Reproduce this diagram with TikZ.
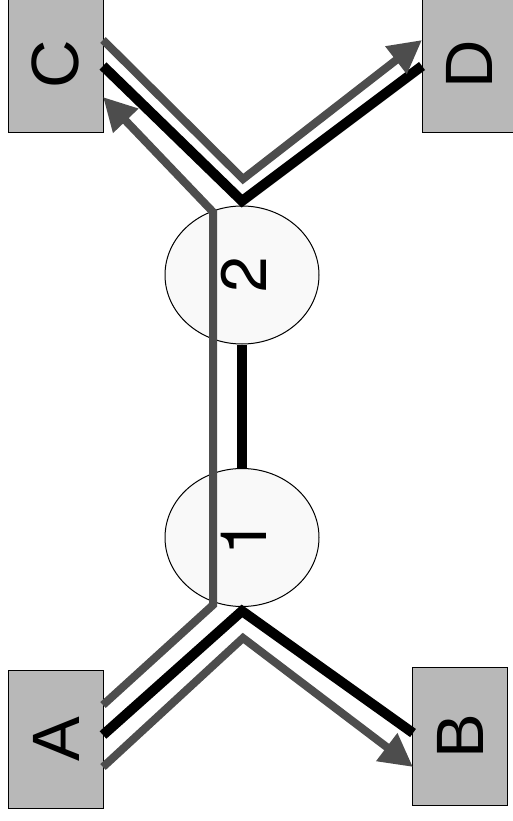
\documentclass[tikz,border=0pt]{standalone}
\usepackage{fontspec}
\setmainfont{Liberation Sans}
\newfontfamily\digitfont{TeX Gyre Heros}
\usetikzlibrary{arrows.meta,shapes.geometric}
\definecolor{boxgray}{RGB}{184,184,184}
\definecolor{linegray}{RGB}{77,77,77}
\definecolor{ellfill}{RGB}{249,249,249}
\begin{document}
\begin{tikzpicture}[x=1pt,y=-1pt,
  box/.style={draw=black,line width=1pt,fill=boxgray,minimum width=95pt,minimum height=138pt,inner sep=0pt,font=\fontsize{67}{80}\selectfont},
  hub/.style={ellipse,draw=black,line width=1pt,fill=ellfill,minimum width=154pt,minimum height=138pt,inner sep=0pt,font=\digitfont\fontsize{64}{78}\selectfont},
  blk/.style={line width=10pt,draw=black,line join=miter},
  gry/.style={line width=8pt,draw=linegray,line join=miter},
  gtip/.style={-{Triangle[length=33pt,width=33pt]}}]
\clip (0,0) rectangle (513,821);
\fill[white] (0,0) rectangle (513,821);
% boxes
\node[box] (C) at (55.5,64) {\rotatebox{90}{C}};
\node[box] (D) at (469.5,64) {\rotatebox{90}{D}};
\node[box] (A) at (56,739) {\rotatebox{90}{A}};
\node[box] (B) at (460,736.5) {\rotatebox{90}{B}};
% hubs
\node[hub] (e2) at (242,275) {\hspace*{4pt}\rotatebox{90}{2}};
\node[hub] (e1) at (242,537.5) {\hspace*{4pt}\rotatebox{90}{1}};
% bend coordinates
\coordinate (kb) at (242,611);
\coordinate (kt) at (242,201);
\coordinate (gu1) at (213,605);
\coordinate (gu2) at (213,212);
\coordinate (gl) at (243,638);
\coordinate (gt) at (243,179);
% black paths
\draw[blk] (103,735) -- (kb) -- (413,733);
\draw[blk] (e1.north) -- (e2.south);
\draw[blk] (103,66) -- (kt) -- (422,66);
% gray paths
\draw[gry,gtip] (103,705) -- (gu1) -- (gu2) -- (103,97);
\draw[gry,gtip] (103,767) -- (gl) -- (413,767);
\draw[gry,gtip] (103,40) -- (gt) -- (422,40);
\end{tikzpicture}
\end{document}
